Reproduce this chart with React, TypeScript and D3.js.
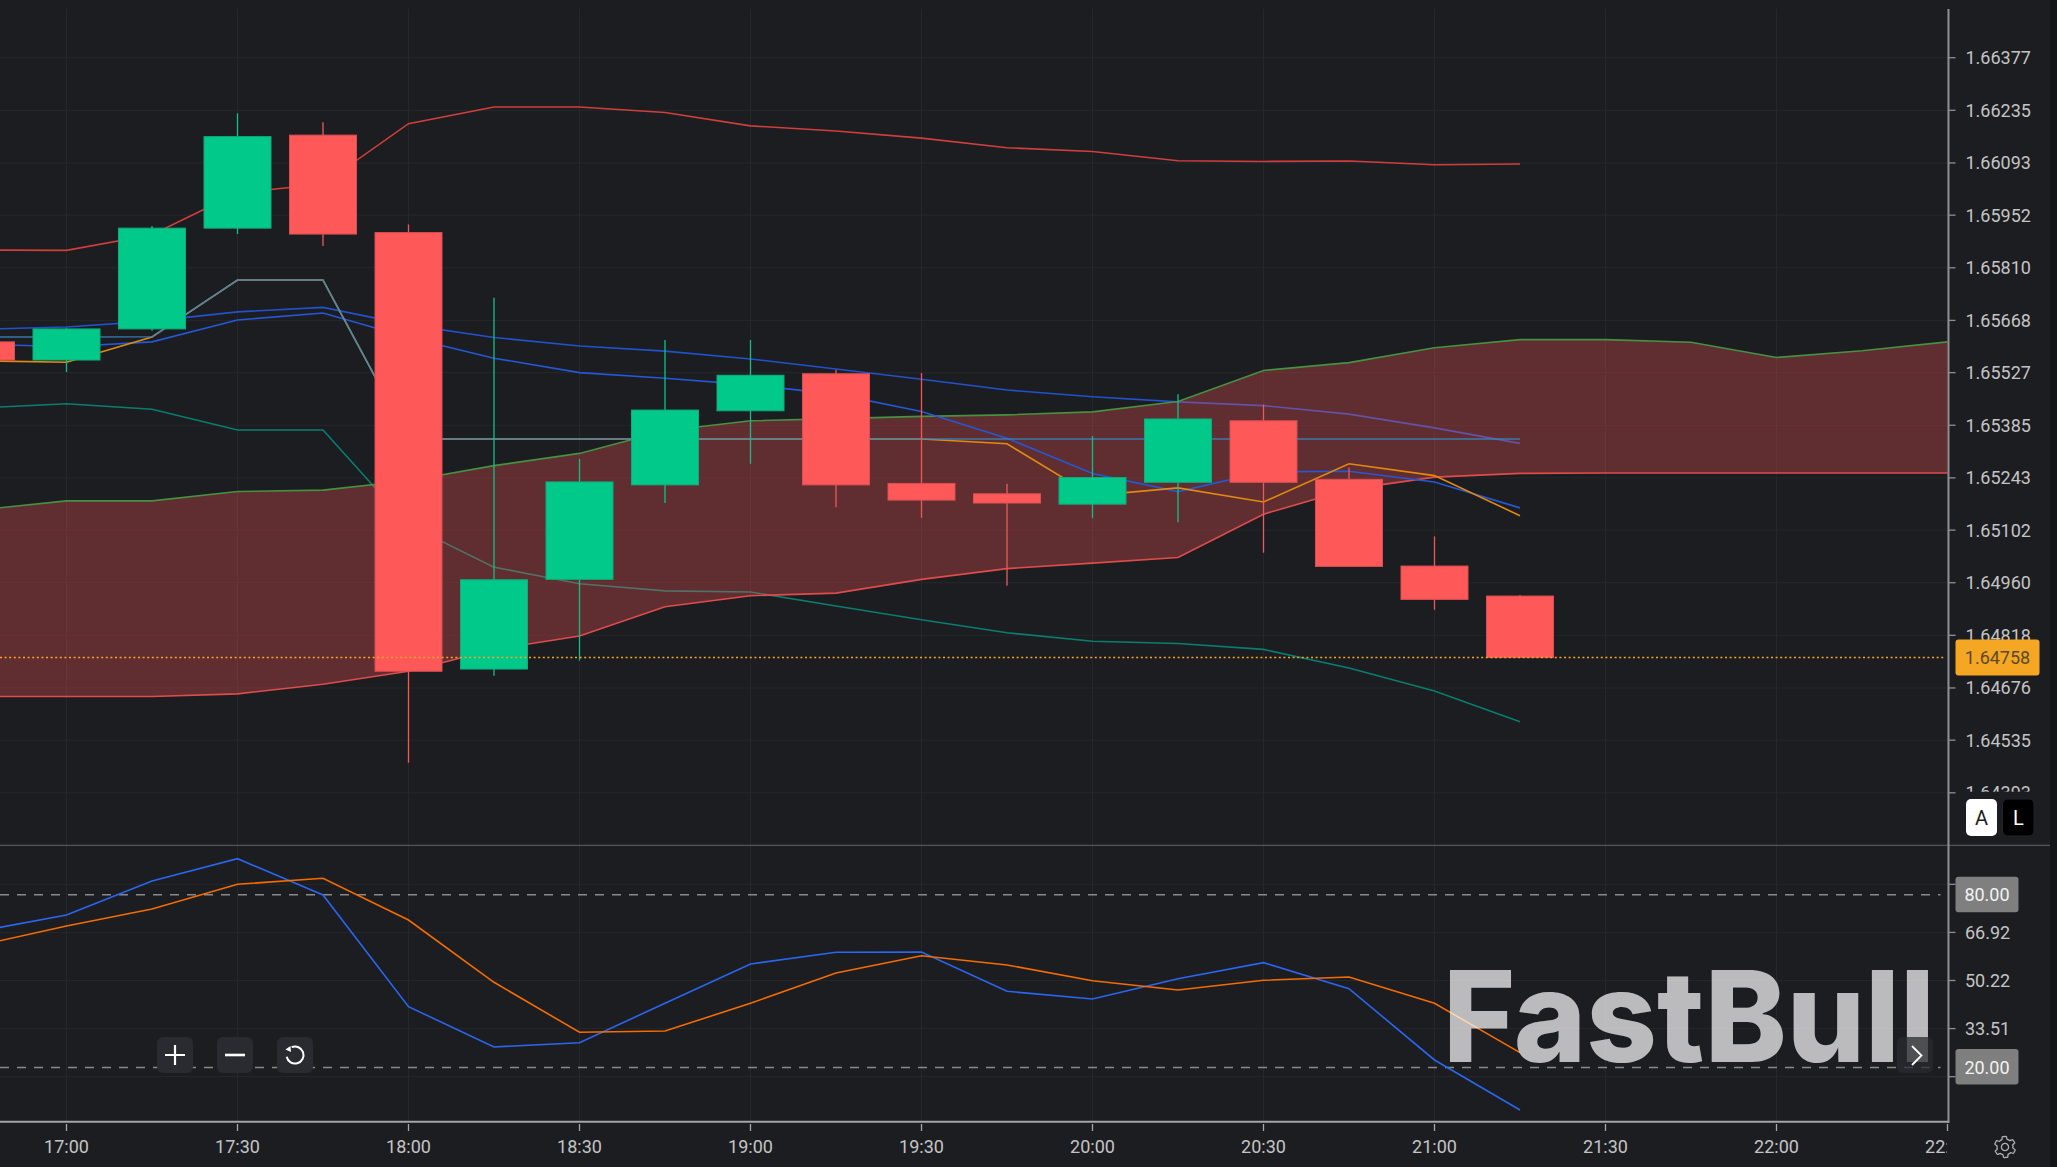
import * as d3 from "d3";
import React from "react";

// bar times, 15 min apart
const barTimes = ["16:45", "17:00", "17:15", "17:30", "17:45", "18:00", "18:15", "18:30", "18:45", "19:00", "19:15", "19:30", "19:45", "20:00", "20:15", "20:30", "20:45", "21:00", "21:15"];
const cloudTimes = [...barTimes, "21:30", "21:45", "22:00", "22:15", "22:30"];

const opens = [1.65610, 1.65561, 1.65645, 1.65917, 1.66168, 1.65905, 1.64727, 1.64969, 1.65224, 1.65424, 1.65524, 1.65228, 1.65200, 1.65172, 1.65231, 1.65397, 1.65239, 1.65005, 1.64924];
const closes = [1.65561, 1.65645, 1.65917, 1.66164, 1.65901, 1.64721, 1.64968, 1.65232, 1.65426, 1.65520, 1.65224, 1.65183, 1.65175, 1.65244, 1.65402, 1.65231, 1.65004, 1.64915, 1.64758];
const highs = [1.65610, 1.65648, 1.65923, 1.66227, 1.66203, 1.65927, 1.65729, 1.65294, 1.65615, 1.65615, 1.65535, 1.65526, 1.65227, 1.65356, 1.65469, 1.65441, 1.65271, 1.65085, 1.64927];
const lows = [1.65561, 1.65529, 1.65640, 1.65901, 1.65869, 1.64474, 1.64709, 1.64750, 1.65175, 1.65281, 1.65164, 1.65135, 1.64952, 1.65134, 1.65123, 1.65041, 1.65004, 1.64887, 1.64757];

const bbUpper = [1.65858, 1.65857, 1.65899, 1.66012, 1.66036, 1.66199, 1.66244, 1.66244, 1.66229, 1.66193, 1.66179, 1.66160, 1.66134, 1.66124, 1.66099, 1.66097, 1.66098, 1.66088, 1.66090];
const bbLower = [1.65432, 1.65443, 1.65428, 1.65372, 1.65372, 1.65116, 1.65002, 1.64957, 1.64938, 1.64935, 1.64897, 1.64860, 1.64825, 1.64802, 1.64796, 1.64780, 1.64730, 1.64668, 1.64585];
const bbMid = [1.65644, 1.65650, 1.65666, 1.65691, 1.65703, 1.65656, 1.65622, 1.65599, 1.65585, 1.65564, 1.65537, 1.65509, 1.65480, 1.65462, 1.65448, 1.65438, 1.65415, 1.65378, 1.65336];
const fastLine = [1.65604, 1.65597, 1.65610, 1.65669, 1.65688, 1.65622, 1.65566, 1.65527, 1.65512, 1.65494, 1.65469, 1.65422, 1.65350, 1.65255, 1.65206, 1.65259, 1.65261, 1.65232, 1.65162];
const steelLine = [1.65623, 1.65623, 1.65624, 1.65777, 1.65777, 1.65348, 1.65348, 1.65348, 1.65348, 1.65348, 1.65348, 1.65348, 1.65348, 1.65348, 1.65348, 1.65348, 1.65348, 1.65348, 1.65348];
const orangeLine = [1.65559, 1.65555, 1.65623, 1.65777, 1.65777, 1.65348, 1.65348, 1.65348, 1.65348, 1.65348, 1.65348, 1.65348, 1.65335, 1.65195, 1.65216, 1.65178, 1.65281, 1.65249, 1.65141];

const spanA = [1.65157, 1.65181, 1.65181, 1.65206, 1.65210, 1.65235, 1.65276, 1.65309, 1.65370, 1.65397, 1.65403, 1.65409, 1.65413, 1.65421, 1.65449, 1.65533, 1.65554, 1.65594, 1.65616, 1.65616, 1.65609, 1.65568, 1.65586, 1.65610];
const spanB = [1.64653, 1.64653, 1.64653, 1.64660, 1.64686, 1.64721, 1.64780, 1.64816, 1.64895, 1.64925, 1.64932, 1.64969, 1.64998, 1.65013, 1.65028, 1.65145, 1.65212, 1.65245, 1.65255, 1.65256, 1.65256, 1.65256, 1.65256, 1.65256];

const kLine = [67.41, 72.96, 84.77, 92.51, 79.91, 41.12, 27.13, 28.62, 42.30, 55.95, 60.01, 60.11, 46.47, 43.79, 50.84, 56.40, 47.37, 22.61, 5.25];
const dLine = [62.54, 69.14, 75.05, 83.62, 85.70, 71.23, 49.59, 32.23, 32.68, 42.30, 52.82, 58.83, 55.60, 50.15, 46.92, 50.29, 51.43, 42.30, 25.15];

const priceTicks = ["1.66377", "1.66235", "1.66093", "1.65952", "1.65810", "1.65668", "1.65527", "1.65385", "1.65243", "1.65102", "1.64960", "1.64818", "1.64676", "1.64535", "1.64393"];
const subTicks = ["83.62", "66.92", "50.22", "33.51", "16.81"];
const subLevels = ["80.00", "20.00"];
const timeTicks = ["17:00", "17:30", "18:00", "18:30", "19:00", "19:30", "20:00", "20:30", "21:00", "21:30", "22:00", "22:30"];
const lastPrice = "1.64758";

const W = 2057, H = 1167;
const axisX = 1948.5;
const font = "Roboto, 'Noto Sans', sans-serif";

const mins = (t: string) => { const [h, m] = t.split(":").map(Number); return h * 60 + m; };
const x = d3.scaleLinear().domain([mins("17:00"), mins("22:00")]).range([66.5, 1776.5]);
const y = d3.scaleLinear().domain([1.66377, 1.64393]).range([57.7, 792.8]);
const ySub = d3.scaleLinear().domain([66.92, 33.51]).range([932.4, 1028.6]);

const bx = (t: string) => x(mins(t));
const priceLine = d3.line<number>().x((_, i) => bx(cloudTimes[i])).y(d => y(d));
const subLine = d3.line<number>().x((_, i) => bx(barTimes[i])).y(d => ySub(d));
const cloudArea = d3.area<number>().x((_, i) => bx(cloudTimes[i])).y0((_, i) => y(spanB[i])).y1(d => y(d));

const bodyW = 67;
const UP = "#00c98a", DOWN = "#ff5858";

// little gear for the settings button
const gearPts: [number, number][] = d3.range(0, 48).map(i => {
    const a = (i / 48) * Math.PI * 2;
    const p = ((i + 2) % 8) / 8;
    return [a, p < 0.5 ? 10.5 : 8];
});
const gear = d3.lineRadial().curve(d3.curveCardinalClosed)(gearPts) ?? undefined;
const resetArc = d3.arc()({ innerRadius: 8.5, outerRadius: 8.5, startAngle: -0.4, endAngle: 4.5 }) ?? undefined;

const Btn: React.FC<{ x0: number; w: number; children?: React.ReactNode; op?: number }> = ({ x0, w, children, op = 1 }) => (
    <g>
        <rect x={x0} y={1037} width={w} height={36} rx={6} fill="#2a2b30" opacity={op} />
        {children}
    </g>
);

export default function App() {
    return (
        <div>
            <style>{`body{margin:0;background:#1c1d21;overflow:hidden}`}</style>
            <svg width={W} height={H} viewBox={`0 0 ${W} ${H}`} style={{ display: "block", fontFamily: font }}>
                <defs>
                    <clipPath id="plot"><rect x={0} y={9} width={axisX - 0.5} height={836} /></clipPath>
                    <clipPath id="tickClip"><rect x={1950} y={9} width={100} height={782.7} /></clipPath>
                    <clipPath id="timeClip"><rect x={0} y={1125} width={1947} height={42} /></clipPath>
                </defs>
                <rect width={W} height={H} fill="#1c1d21" />
                <rect x={2050} width={7} height={H} fill="#141518" />

                {/* grid */}
                {timeTicks.map(t => (
                    <line key={t} x1={bx(t)} x2={bx(t)} y1={9} y2={1121} stroke="#26272b" />
                ))}
                {priceTicks.map(t => (
                    <line key={t} x1={0} x2={axisX} y1={y(+t)} y2={y(+t)} stroke="#26272b" />
                ))}
                {subTicks.map(t => (
                    <line key={t} x1={0} x2={axisX} y1={ySub(+t)} y2={ySub(+t)} stroke="#26272b" />
                ))}

                <g clipPath="url(#plot)" fill="none" strokeWidth={1.6}>
                    <path d={priceLine(bbUpper) ?? undefined} stroke="#cf3f3c" />
                    <path d={priceLine(bbLower) ?? undefined} stroke="#0a7d70" />
                    <path d={priceLine(bbMid) ?? undefined} stroke="#2152cc" />

                    <path d={cloudArea(spanA) ?? undefined} fill="rgba(255,82,82,0.3)" stroke="none" />
                    <path d={priceLine(spanA) ?? undefined} stroke="#469142" />
                    <path d={priceLine(spanB) ?? undefined} stroke="#e04c4c" />

                    <path d={priceLine(fastLine) ?? undefined} stroke="#2458d6" />
                    <path d={priceLine(orangeLine) ?? undefined} stroke="#e08a10" />
                    <path d={priceLine(steelLine) ?? undefined} stroke="#3a86c0" strokeOpacity={0.85} />

                    {/* candles */}
                    {barTimes.map((t, i) => {
                        const up = closes[i] >= opens[i];
                        const c = up ? UP : DOWN;
                        const top = y(Math.max(opens[i], closes[i]));
                        const bot = y(Math.min(opens[i], closes[i]));
                        return (
                            <g key={t}>
                                <line x1={bx(t)} x2={bx(t)} y1={y(highs[i])} y2={y(lows[i])} stroke={up ? "#14bf87" : "#f0585a"} strokeWidth={1.3} />
                                <rect x={bx(t) - bodyW / 2} y={top} width={bodyW} height={bot - top} fill={c}
                                    stroke={up ? "#12a97e" : "#d84f55"} strokeWidth={1} />
                            </g>
                        );
                    })}

                    <line x1={0} x2={axisX - 3} y1={y(+lastPrice)} y2={y(+lastPrice)} stroke="#f5a623" strokeWidth={1.6} strokeDasharray="2 2.6" />
                </g>

                {/* sub pane */}
                {subLevels.map(t => (
                    <line key={t} x1={0} x2={axisX - 8} y1={ySub(+t)} y2={ySub(+t)} stroke="#8a8a8c" strokeWidth={1.3} strokeDasharray="9 8" />
                ))}
                <path d={subLine(kLine) ?? undefined} fill="none" stroke="#2a66f0" strokeWidth={1.6} />
                <path d={subLine(dLine) ?? undefined} fill="none" stroke="#f56c00" strokeWidth={1.6} />

                {/* watermark */}
                <text x={1443} y={1062} fontFamily="Inter, sans-serif" fontWeight={800} fontSize={127} fill="#fff" opacity={0.7}
                    textLength={492} lengthAdjust="spacingAndGlyphs">FastBull</text>

                {/* pane divider and axes */}
                <line x1={0} x2={2050} y1={845.3} y2={845.3} stroke="#55565a" strokeWidth={1.3} />
                <line x1={axisX} x2={axisX} y1={9} y2={1123} stroke="#8e8f93" strokeWidth={2} />
                <line x1={0} x2={axisX} y1={1121.7} y2={1121.7} stroke="#a5a5a7" strokeWidth={2} />

                {timeTicks.map(t => (
                    <line key={t} x1={bx(t)} x2={bx(t)} y1={1124} y2={1131} stroke="#a5a5a7" strokeWidth={1.3} />
                ))}
                <g clipPath="url(#timeClip)">
                    {timeTicks.map(t => (
                        <text key={t} x={bx(t)} y={1146} textAnchor="middle" dominantBaseline="central" fontSize={18} fill="#c4c4c4">{t}</text>
                    ))}
                </g>

                {priceTicks.map(t => (
                    <line key={t} x1={axisX} x2={axisX + 7} y1={y(+t)} y2={y(+t)} stroke="#8e8f93" strokeWidth={1.3} />
                ))}
                <g clipPath="url(#tickClip)">
                    {priceTicks.map(t => (
                        <text key={t} x={1965.5} y={y(+t)} dominantBaseline="central" fontSize={18} fill="#c4c4c4">{t}</text>
                    ))}
                </g>
                {subTicks.map(t => (
                    <g key={t}>
                        <line x1={axisX} x2={axisX + 7} y1={ySub(+t)} y2={ySub(+t)} stroke="#8e8f93" strokeWidth={1.3} />
                        <text x={1965} y={ySub(+t)} dominantBaseline="central" fontSize={18} fill="#c4c4c4">{t}</text>
                    </g>
                ))}

                {/* level + last price labels */}
                {subLevels.map(t => (
                    <g key={t}>
                        <rect x={1955.5} y={ySub(+t) + (t === "80.00" ? -18 : -18.5)} width={63} height={35.5} rx={3} fill="#7f7f7f" />
                        <text x={1987} y={ySub(+t)} textAnchor="middle" dominantBaseline="central" fontSize={18} fill="#f2f2f2">{t}</text>
                    </g>
                ))}
                <rect x={1955.5} y={y(+lastPrice) - 18} width={84} height={36} rx={3} fill="#f5a623" />
                <text x={1997.5} y={y(+lastPrice)} textAnchor="middle" dominantBaseline="central" fontSize={18} fill="#5a4a2c">{lastPrice}</text>

                {/* A / L toggles */}
                <rect x={1966} y={799} width={31} height={37} rx={5} fill="#fff" />
                <text x={1981.5} y={818} textAnchor="middle" dominantBaseline="central" fontSize={20} fill="#1c1d21">A</text>
                <rect x={2002.5} y={799} width={31.5} height={37} rx={5} fill="#000" stroke="#232428" />
                <text x={2018.5} y={818} textAnchor="middle" dominantBaseline="central" fontSize={20} fill="#fff">L</text>

                {/* zoom controls */}
                <Btn x0={157} w={36}>
                    <path d="M175 1045v20M165 1055h20" stroke="#fff" strokeWidth={2.2} />
                </Btn>
                <Btn x0={217} w={36}>
                    <path d="M225 1055h20" stroke="#fff" strokeWidth={2.6} />
                </Btn>
                <Btn x0={277} w={36}>
                    <g transform="translate(295,1055)">
                        <path d={resetArc} fill="none" stroke="#fff" strokeWidth={2} />
                        <path d="M-9.5 -5.5l5 -3.5l0.5 6z" fill="#fff" />
                    </g>
                </Btn>
                <Btn x0={1897} w={36} op={0.75}>
                    <path d="M1912 1046l9.5 9.5l-9.5 9.5" fill="none" stroke="#fff" strokeWidth={1.8} />
                </Btn>

                {/* settings */}
                <g transform="translate(2005,1147)" fill="none" stroke="#b0b0b0" strokeWidth={1.3}>
                    <path d={gear} />
                    <circle r={3.6} />
                </g>
            </svg>
        </div>
    );
}
